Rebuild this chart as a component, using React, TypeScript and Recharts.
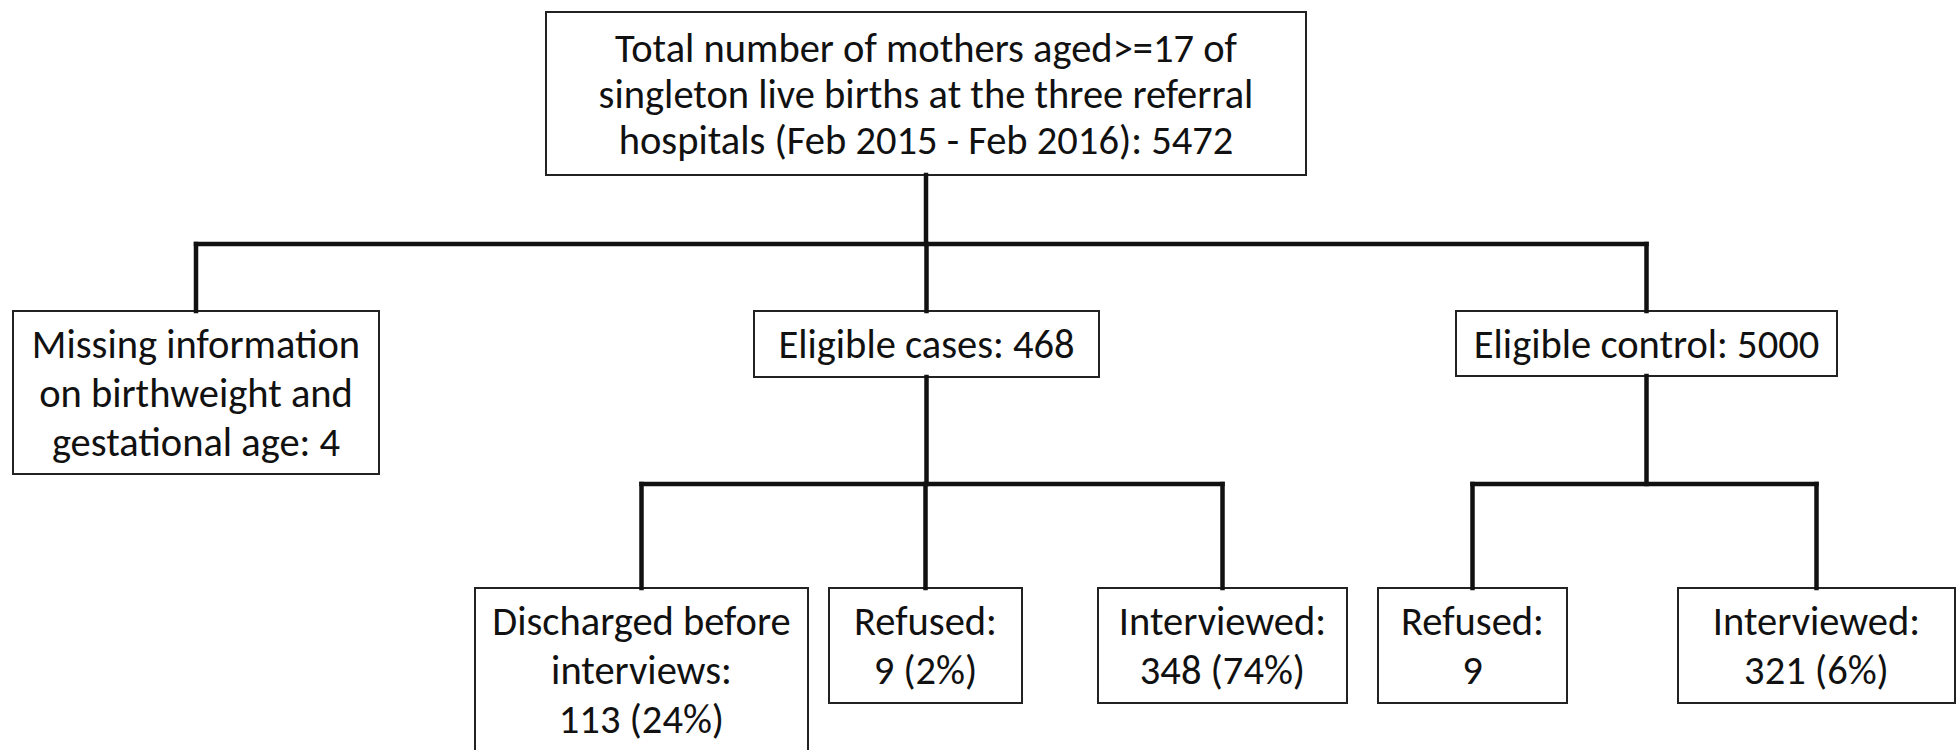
import React from 'react'
import { ScatterChart, Scatter, XAxis, YAxis, ReferenceArea, ReferenceLine } from 'recharts'

const WIDTH = 1957
const HEIGHT = 750

// box texts, one entry per node of the flow chart
const nodeLabels = [
	['Total number of mothers aged>=17 of', 'singleton live births at the three referral', 'hospitals (Feb 2015 - Feb 2016): 5472'],
	['Missing information', 'on birthweight and', 'gestational age: 4'],
	['Eligible cases: 468'],
	['Eligible control: 5000'],
	['Discharged before', 'interviews:', '113 (24%)'],
	['Refused:', '9 (2%)'],
	['Interviewed:', '348 (74%)'],
	['Refused:', '9'],
	['Interviewed:', '321 (6%)']
]

// which box each box hangs from (-1 = top)
const nodeParent = [-1, 0, 0, 0, 2, 2, 2, 3, 3]

// layout, page pixels
const boxLeft = [546, 13, 754, 1456, 475, 829, 1098, 1378, 1678]
const boxRight = [1306, 379, 1099, 1837, 808, 1022, 1347, 1567, 1955]
const boxTop = [12, 311, 311, 311, 588, 588, 588, 588, 588]
const boxBottom = [175, 474, 377, 376, 752, 703, 703, 703, 703]
const lineGap = [46, 49, 49, 49, 49, 49, 49, 49, 49]
const busY: Record<number, number> = { 0: 244, 2: 484, 3: 484 }

const FONT = "Carlito, Calibri, Lato, 'Noto Sans', sans-serif"
const INK = '#111'

const centerX = (i: number) => (boxLeft[i] + boxRight[i]) / 2
const centerY = (i: number) => (boxTop[i] + boxBottom[i]) / 2

const points = nodeLabels.map((lines, i) => ({ x: centerX(i), y: centerY(i), lines, gap: lineGap[i] }))

// connector segments: trunk under parent, horizontal bus, drop to each child
const segments: { x1: number; y1: number; x2: number; y2: number }[] = []
Object.keys(busY).forEach((k) => {
	const p = Number(k)
	const kids = nodeParent.map((q, i) => (q === p ? i : -1)).filter((i) => i >= 0)
	const y = busY[p]
	segments.push({ x1: centerX(p), y1: boxBottom[p], x2: centerX(p), y2: y })
	const xs = kids.map(centerX)
	segments.push({ x1: Math.min(...xs), y1: y, x2: Math.max(...xs), y2: y })
	kids.forEach((c) => segments.push({ x1: centerX(c), y1: y, x2: centerX(c), y2: boxTop[c] }))
})

const NodeText = (props: any) => {
	const { cx, cy, payload } = props
	const lines: string[] = payload.lines
	return (
		<text textAnchor="middle" fontFamily={FONT} fontSize={40.5} fill={INK}>
			{lines.map((l, i) => (
				<tspan key={i} x={cx} y={cy + 14 + (i - (lines.length - 1) / 2) * payload.gap}>
					{l}
				</tspan>
			))}
		</text>
	)
}

export default function App() {
	return (
		<div style={{ position: 'absolute', left: 0, top: 0, width: WIDTH, height: HEIGHT, background: '#fff' }}>
			<ScatterChart width={WIDTH} height={HEIGHT} margin={{ top: 0, right: 0, bottom: 0, left: 0 }}>
				<XAxis type="number" dataKey="x" domain={[0, WIDTH]} hide />
				<YAxis type="number" dataKey="y" domain={[0, HEIGHT]} reversed hide />
				{segments.map((s, i) => (
					<ReferenceLine
						key={'s' + i}
						segment={[
							{ x: s.x1, y: s.y1 },
							{ x: s.x2, y: s.y2 }
						]}
						stroke={INK}
						strokeWidth={4.5}
						strokeLinecap="square"
						ifOverflow="visible"
					/>
				))}
				{nodeLabels.map((_, i) => (
					<ReferenceArea
						key={'b' + i}
						x1={boxLeft[i]}
						x2={boxRight[i]}
						y1={boxTop[i]}
						y2={boxBottom[i]}
						fill="#fff"
						fillOpacity={1}
						stroke="#222"
						strokeWidth={2}
						ifOverflow="visible"
					/>
				))}
				<Scatter data={points} shape={NodeText} isAnimationActive={false} />
			</ScatterChart>
		</div>
	)
}
